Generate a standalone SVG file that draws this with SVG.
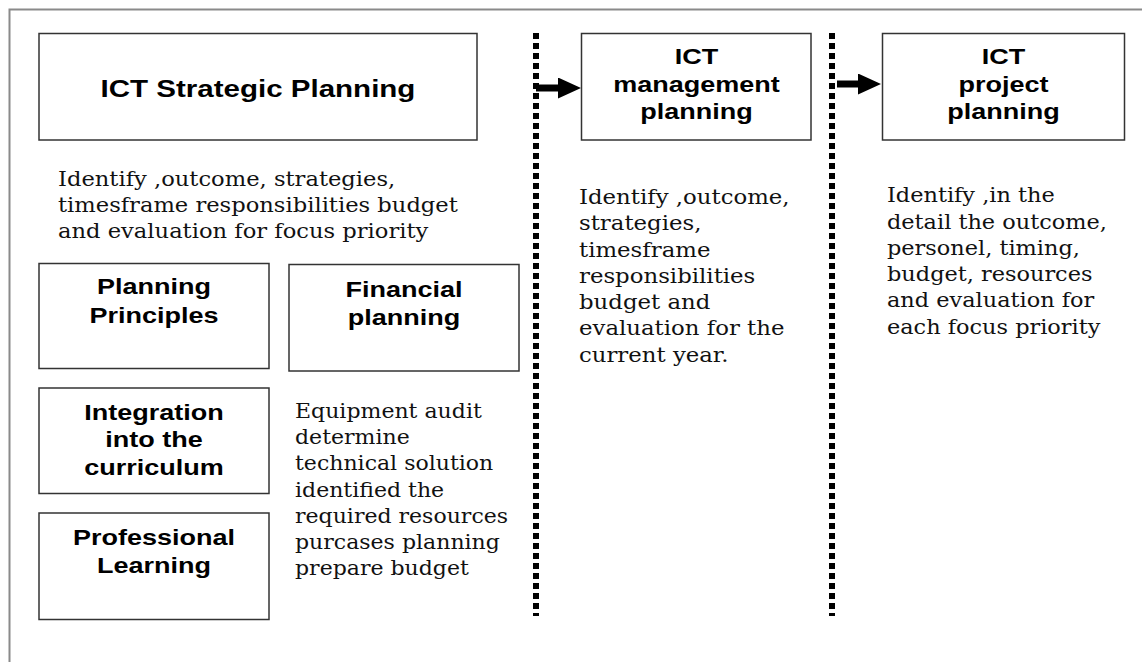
<svg xmlns="http://www.w3.org/2000/svg" width="1142" height="662" viewBox="0 0 1142 662">
  <style>
    .box { fill: #ffffff; stroke: #333333; stroke-width: 1.5; }
    .frame { fill: none; stroke: #8a8a8a; stroke-width: 2; }
    .sep { fill: none; stroke: #000000; stroke-width: 6; stroke-dasharray: 6 4; }
    .title { font-family: "Liberation Sans", Arial, sans-serif; font-weight: bold; font-size: 22.5px; fill: #000000; text-anchor: middle; }
    .big { font-size: 24px; }
    .body { font-family: "DejaVu Serif", "Liberation Serif", serif; font-size: 19.5px; fill: #111111; }
    .conn { fill: none; stroke: #000000; stroke-width: 7; }
  </style>
  <defs>
    <marker id="ah" markerUnits="userSpaceOnUse" markerWidth="23" markerHeight="21" refX="0" refY="10.5" orient="auto">
      <polygon points="0,0 23,10.5 0,21" fill="#000000"/>
    </marker>
  </defs>
  <rect width="1142" height="662" fill="#ffffff"/>
  <rect class="frame" x="9.5" y="9.5" width="1150" height="670"/>

  <g id="separators">
    <line class="sep" x1="536" y1="33" x2="536" y2="616"/>
    <line class="sep" x1="832" y1="33" x2="832" y2="616"/>
  </g>

  <g id="connectors">
    <line class="conn" x1="536" y1="88" x2="558" y2="88" marker-end="url(#ah)"/>
    <line class="conn" x1="837" y1="84" x2="858" y2="84" marker-end="url(#ah)"/>
  </g>

  <g id="strategic">
    <rect class="box" x="39" y="33.5" width="438" height="106.5"/>
    <text class="title big" transform="translate(258 97.3) scale(1.23 1)">ICT Strategic Planning</text>
  </g>
  <g id="strategic-text">
    <text class="body" transform="translate(58 0) scale(1.16 1)"><tspan x="0" y="186">Identify ,outcome, strategies,</tspan><tspan x="0" y="212">timesframe responsibilities budget</tspan><tspan x="0" y="238">and evaluation for focus priority</tspan></text>
  </g>

  <g id="planning-principles">
    <rect class="box" x="39" y="263.5" width="230" height="105"/>
    <text class="title" transform="translate(154 0) scale(1.2 1)"><tspan x="0" y="294.3">Planning</tspan><tspan x="0" y="323.3">Principles</tspan></text>
  </g>
  <g id="financial-planning">
    <rect class="box" x="289" y="264.5" width="230" height="106.5"/>
    <text class="title" transform="translate(404 0) scale(1.2 1)"><tspan x="0" y="296.7">Financial</tspan><tspan x="0" y="325">planning</tspan></text>
  </g>
  <g id="integration">
    <rect class="box" x="39" y="388" width="230" height="105.5"/>
    <text class="title" transform="translate(154 0) scale(1.2 1)"><tspan x="0" y="420">Integration</tspan><tspan x="0" y="447.5">into the</tspan><tspan x="0" y="475.5">curriculum</tspan></text>
  </g>
  <g id="professional-learning">
    <rect class="box" x="39" y="513" width="230" height="106.5"/>
    <text class="title" transform="translate(154 0) scale(1.2 1)"><tspan x="0" y="544.7">Professional</tspan><tspan x="0" y="572.7">Learning</tspan></text>
  </g>
  <g id="financial-text">
    <text class="body" transform="translate(295 0) scale(1.13 1)"><tspan x="0" y="417.7">Equipment audit</tspan><tspan x="0" y="444">determine</tspan><tspan x="0" y="470.3">technical solution</tspan><tspan x="0" y="496.7">identified the</tspan><tspan x="0" y="522.7">required resources</tspan><tspan x="0" y="549">purcases planning</tspan><tspan x="0" y="575.3">prepare budget</tspan></text>
  </g>

  <g id="management">
    <rect class="box" x="581.5" y="33.5" width="229.5" height="106.5"/>
    <text class="title" transform="translate(696.5 0) scale(1.2 1)"><tspan x="0" y="64">ICT</tspan><tspan x="0" y="91.7">management</tspan><tspan x="0" y="119.3">planning</tspan></text>
  </g>
  <g id="management-text">
    <text class="body" transform="translate(579 0) scale(1.17 1)"><tspan x="0" y="204">Identify ,outcome,</tspan><tspan x="0" y="230.3">strategies,</tspan><tspan x="0" y="256.6">timesframe</tspan><tspan x="0" y="282.9">responsibilities</tspan><tspan x="0" y="309.2">budget and</tspan><tspan x="0" y="335.5">evaluation for the</tspan><tspan x="0" y="361.8">current year.</tspan></text>
  </g>

  <g id="project">
    <rect class="box" x="882.5" y="33.5" width="242" height="106.5"/>
    <text class="title" transform="translate(1003.5 0) scale(1.2 1)"><tspan x="0" y="64">ICT</tspan><tspan x="0" y="91.7">project</tspan><tspan x="0" y="119.3">planning</tspan></text>
  </g>
  <g id="project-text">
    <text class="body" transform="translate(887 0) scale(1.15 1)"><tspan x="0" y="202.3">Identify ,in the</tspan><tspan x="0" y="228.6">detail the outcome,</tspan><tspan x="0" y="254.9">personel, timing,</tspan><tspan x="0" y="281.2">budget, resources</tspan><tspan x="0" y="307.5">and evaluation for</tspan><tspan x="0" y="333.8">each focus priority</tspan></text>
  </g>
</svg>
